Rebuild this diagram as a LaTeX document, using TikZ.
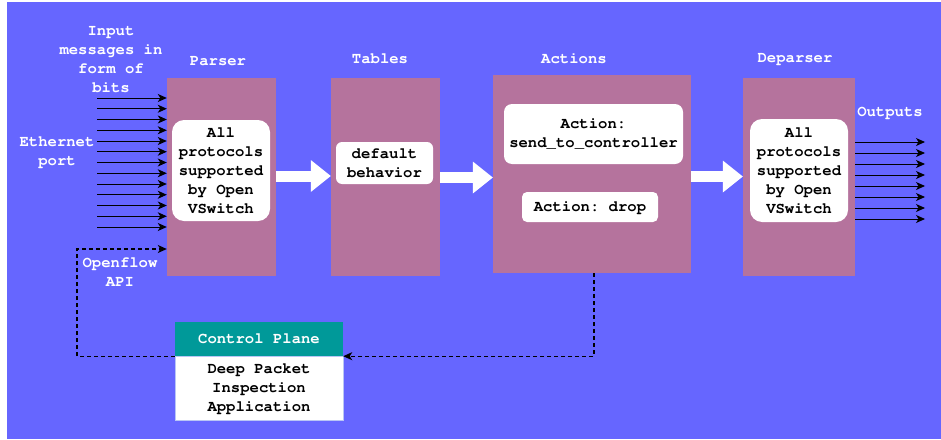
\documentclass[tikz,border=0pt]{standalone}
\usepackage[T1]{fontenc}
\renewcommand{\ttdefault}{pcr}
\usetikzlibrary{arrows.meta}

\definecolor{bgblue}{HTML}{6666FF}
\definecolor{stagefill}{HTML}{B5739D}
\definecolor{cpteal}{HTML}{009999}
\definecolor{cpedge}{HTML}{B9C6F5}

\tikzset{
  txt/.style={font=\ttfamily\bfseries\fontsize{15.6}{19}\selectfont\frenchspacing, align=center, inner sep=0pt},
  lbl/.style={txt, text=white},
  stagebox/.style={fill=stagefill, draw=none, inner sep=0pt},
  whitebox/.style={txt, fill=white, draw=none, rounded corners=#1},
  whitebox/.default=10pt,
  bigarrow/.style={draw=white, line width=11pt,
    -{Triangle[length=20pt 0 0, width=32pt 0 0, line width=0pt]}},
  wire/.style={draw=black, line width=1pt,
    -{Stealth[length=9pt 0 0, width=8pt 0 0, inset=2.5pt 0 0]}},
  dashlink/.style={wire, line width=1.2pt, dash pattern=on 4pt off 3pt}
}

\begin{document}
\begin{tikzpicture}[x=1pt, y=-1pt]
  \useasboundingbox (0,0) rectangle (941,439);
  \fill[white] (0,0) rectangle (941,439);
  \fill[bgblue] (7,2) rectangle (941,439);

  % pipeline stages
  \node[stagebox, minimum width=109pt, minimum height=198pt] (parser) at (221.5,177) {};
  \node[stagebox, minimum width=109pt, minimum height=198pt] (tables) at (385.5,177) {};
  \node[stagebox, minimum width=198pt, minimum height=198pt] (actions) at (592,174) {};
  \node[stagebox, minimum width=112pt, minimum height=198pt] (deparser) at (799,177) {};

  % stage titles
  \node[lbl] (parsertitle) at (218,61) {Parser};
  \node[lbl] (tablestitle) at (380,59) {Tables};
  \node[lbl] (actionstitle) at (574,58) {Actions};
  \node[lbl] (deparsertitle) at (795,59) {Deparser};

  % contents of the stages
  \node[whitebox=12pt, minimum width=98pt, minimum height=101pt] (parserin) at (221,170.5)
    {All\\protocols\\supported\\by Open\\VSwitch};
  \node[whitebox=6pt, minimum width=97pt, minimum height=42pt] (defbeh) at (384.5,163)
    {default\\behavior};
  \node[whitebox=8pt, minimum width=179pt, minimum height=60pt] (sendctl) at (593.5,134)
    {Action:\\send\_to\_controller};
  \node[whitebox=5pt, minimum width=136pt, minimum height=30pt] (dropact) at (590,207)
    {Action: drop};
  \node[whitebox=12pt, minimum width=98pt, minimum height=103pt] (deparserin) at (799,170.5)
    {All\\protocols\\supported\\by Open\\VSwitch};

  % side labels
  \node[lbl] (inputlbl) at (111,59.5) {Input\\messages in\\form of\\bits};
  \node[lbl] (ethlbl) at (57,152) {Ethernet\\port};
  \node[lbl] (apilbl) at (120,272) {Openflow\\API};
  \node[lbl] (outlbl) at (890,113) {Outputs};

  % control plane
  \node[fill=cpteal, lbl, minimum width=168pt, minimum height=34pt] (cphead) at (259,339) {Control Plane};
  \node[txt, fill=white, draw=cpedge, line width=0.8pt, minimum width=168pt, minimum height=64pt,
        anchor=north] (cpbody) at (cphead.south) {Deep Packet\\Inspection\\Application};

  % flow between the stages
  \draw[bigarrow] ([yshift=1pt]parser.east) -- ([yshift=1pt]parser.east -| tables.west);
  \draw[bigarrow] ([yshift=-0.5pt]tables.east) -- ([yshift=-0.5pt]tables.east -| actions.west);
  \draw[bigarrow] ([yshift=-2.5pt]actions.east) -- ([yshift=-2.5pt]actions.east -| deparser.west);

  % input bit lines
  \foreach \i in {0,...,12} {
    \coordinate (in\i) at (97, 98+10.75*\i);
    \draw[wire] (in\i) -- (in\i -| parser.west);
  }

  % output bit lines
  \foreach \i in {0,...,7} {
    \coordinate (out\i) at (925, 142+11*\i);
    \draw[wire] (out\i -| deparser.east) -- (out\i);
  }

  % control plane links
  \coordinate (apicorner) at (77,249);
  \draw[dashlink] (cphead.south west) -| (apicorner) -- (apicorner -| parser.west);
  \draw[dashlink] ([xshift=2pt]actions.south) |- (cphead.south east);
\end{tikzpicture}
\end{document}
